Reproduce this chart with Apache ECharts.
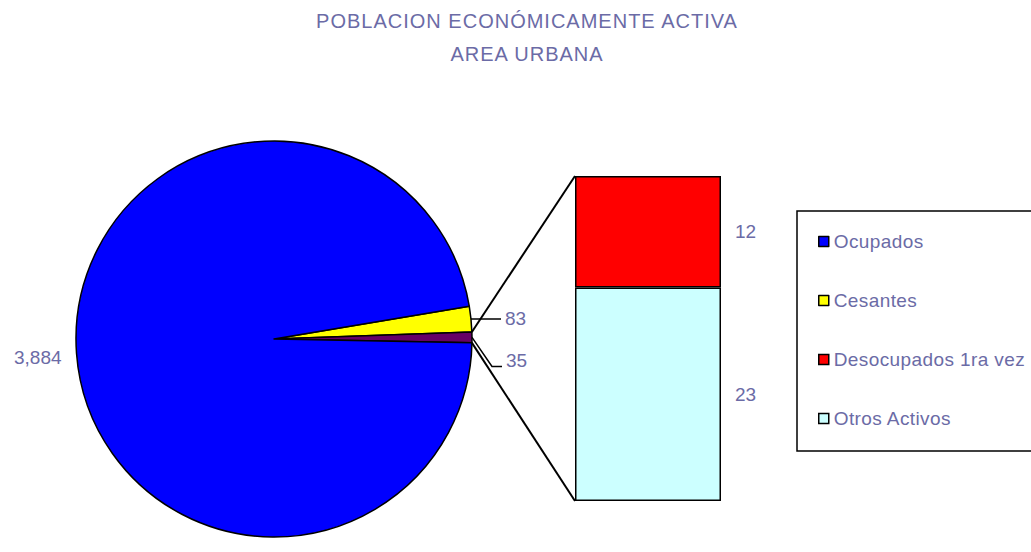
<!DOCTYPE html>
<html>
<head>
<meta charset="utf-8">
<script src="https://cdn.jsdelivr.net/npm/echarts@6/dist/echarts.min.js"></script>
<style>
  html, body { margin: 0; padding: 0; background: #fff; }
  #chart { width: 1031px; height: 552px; }
</style>
</head>
<body>
<div id="chart"></div>
<script>
// datos del grafico
const tituloLineas = ["POBLACION ECONÓMICAMENTE ACTIVA", "AREA URBANA"];
const pieNames = ["Ocupados", "Cesantes", "Otros"];
const pieValues = [3884, 83, 35];
const pieColors = ["#0000ff", "#ffff00", "#660066"];
const barNames = ["Desocupados 1ra vez", "Otros Activos"];
const barValues = [12, 23];
const barColors = ["#ff0000", "#ccffff"];
const legendNames = ["Ocupados", "Cesantes", "Desocupados 1ra vez", "Otros Activos"];

const textColor = "#6b6ba6";
const font = "'Liberation Sans', Arial, sans-serif";

// geometria
const pieCenter = [274, 339];
const pieRadius = 198;
const startAngle = 9.5;
const grid = { left: 575, top: 176, width: 146, height: 325 };

const chart = echarts.init(document.getElementById("chart"), null, { renderer: "svg" });

// orden de las porciones: Cesantes, Otros, Ocupados (sentido horario)
const order = [1, 2, 0];
const pieData = order.map(i => {
    const item = {
        name: pieNames[i],
        value: pieValues[i],
        itemStyle: { color: pieColors[i] }
    };
    if (i === 0) {
        item.labelLine = { show: false, length: 4, length2: 4 };
    }
    return item;
});

const stackTotal = barValues.reduce((a, b) => a + b, 0);

// lineas que unen la porcion "Otros" con la barra
const total = pieValues.reduce((a, b) => a + b, 0);
const a1 = startAngle - pieValues[1] / total * 360;
const a2 = a1 - pieValues[2] / total * 360;
const rad = d => d * Math.PI / 180;
const p1 = [pieCenter[0] + pieRadius * Math.cos(rad(a1)), pieCenter[1] - pieRadius * Math.sin(rad(a1))];
const p2 = [pieCenter[0] + pieRadius * Math.cos(rad(a2)), pieCenter[1] - pieRadius * Math.sin(rad(a2))];

const option = {
    animation: false,
    title: {
        text: tituloLineas.join("\n"),
        left: 527,
        top: 4,
        textAlign: "center",
        padding: 0,
        textStyle: {
            color: textColor,
            fontFamily: font,
            fontSize: 20,
            fontWeight: "normal",
            lineHeight: 33
        }
    },
    legend: {
        data: legendNames,
        orient: "vertical",
        left: 797,
        top: 211,
        padding: [21, 40, 23, 21],
        itemGap: 40,
        itemWidth: 10,
        itemHeight: 10,
        icon: "rect",
        borderColor: "#000",
        borderWidth: 1.5,
        itemStyle: { borderColor: "#000", borderWidth: 1.5 },
        textStyle: {
            color: textColor,
            fontFamily: font,
            fontSize: 19
        },
        selectedMode: false
    },
    grid: {
        left: grid.left,
        top: grid.top,
        width: grid.width,
        height: grid.height
    },
    xAxis: {
        type: "category",
        data: ["Otros"],
        show: false
    },
    yAxis: {
        type: "value",
        min: 0,
        max: stackTotal,
        show: false
    },
    graphic: [
        {
            type: "line",
            shape: { x1: p1[0], y1: p1[1], x2: grid.left, y2: grid.top },
            style: { stroke: "#000", lineWidth: 2 },
            z: 10
        },
        {
            type: "line",
            shape: { x1: p2[0], y1: p2[1], x2: grid.left, y2: grid.top + grid.height },
            style: { stroke: "#000", lineWidth: 2 },
            z: 10
        }
    ],
    series: [
        {
            name: "PEA",
            type: "pie",
            center: pieCenter,
            radius: pieRadius,
            startAngle: startAngle,
            clockwise: true,
            avoidLabelOverlap: false,
            data: pieData,
            itemStyle: { borderColor: "#000", borderWidth: 1.5 },
            label: {
                show: true,
                position: "outside",
                color: textColor,
                fontFamily: font,
                fontSize: 19,
                distanceToLabelLine: 4,
                formatter: p => p.value.toLocaleString("en-US")
            },
            labelLine: {
                show: true,
                length: 2,
                length2: 28,
                lineStyle: { color: "#000", width: 1.5 }
            },
            labelLayout: function (p) {
                if (p.dataIndex === 2) {
                    return { dx: -3, dy: 4 };
                }
                if (p.dataIndex !== 1) return;
                const pts = p.labelLinePoints;
                return {
                    dy: 23,
                    labelLinePoints: [
                        pts[0],
                        [pts[2][0] - 10, pts[2][1] + 29],
                        [pts[2][0], pts[2][1] + 29]
                    ]
                };
            },
            emphasis: { disabled: true }
        },
        {
            name: barNames[1],
            type: "bar",
            stack: "otros",
            barWidth: "100%",
            data: [barValues[1]],
            itemStyle: { color: barColors[1], borderColor: "#000", borderWidth: 1.5 },
            label: {
                show: true,
                position: "right",
                distance: 14,
                color: textColor,
                fontFamily: font,
                fontSize: 19
            },
            emphasis: { disabled: true }
        },
        {
            name: barNames[0],
            type: "bar",
            stack: "otros",
            barWidth: "100%",
            data: [barValues[0]],
            itemStyle: { color: barColors[0], borderColor: "#000", borderWidth: 1.5 },
            label: {
                show: true,
                position: "right",
                distance: 14,
                color: textColor,
                fontFamily: font,
                fontSize: 19
            },
            emphasis: { disabled: true }
        }
    ]
};

chart.setOption(option);

// espaciado de letras como en el original (titulo y leyenda)
document.querySelectorAll("#chart svg text").forEach(t => {
    const s = t.textContent.trim();
    if (tituloLineas.indexOf(s) >= 0) {
        t.style.letterSpacing = "1px";
    } else if (legendNames.indexOf(s) >= 0) {
        t.style.letterSpacing = "0.4px";
    }
});
</script>
</body>
</html>
